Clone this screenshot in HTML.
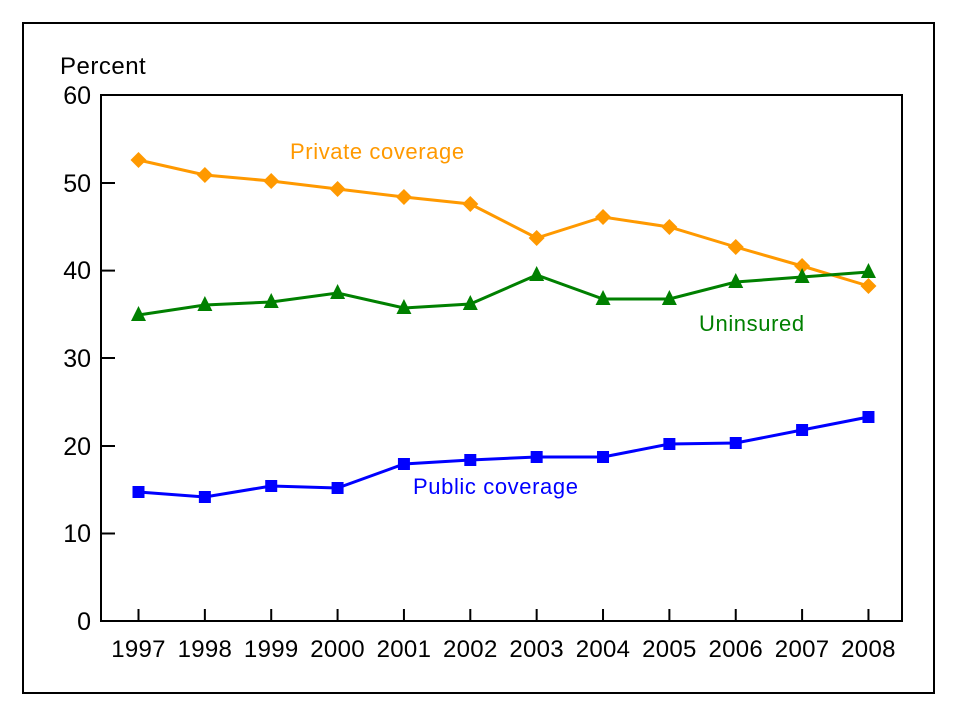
<!DOCTYPE html>
<html><head><style>body{margin:0;background:#fff}svg{display:block}text{font-family:"Liberation Sans",sans-serif}</style></head><body>
<svg width="960" height="720" viewBox="0 0 960 720">
<rect x="23" y="23" width="911" height="670" fill="none" stroke="#000" stroke-width="2"/>
<rect x="101" y="95" width="801" height="526" fill="none" stroke="#000" stroke-width="2"/>
<g stroke="#000" stroke-width="2">
<line x1="101" y1="183" x2="115" y2="183"/><line x1="101" y1="270.6" x2="115" y2="270.6"/><line x1="101" y1="358" x2="115" y2="358"/><line x1="101" y1="446" x2="115" y2="446"/><line x1="101" y1="533.5" x2="115" y2="533.5"/>
</g>
<g font-size="25" text-anchor="end" fill="#000">
<text x="91" y="104">60</text><text x="91" y="192">50</text><text x="91" y="279">40</text><text x="91" y="367">30</text><text x="91" y="455">20</text><text x="91" y="542">10</text><text x="91" y="630">0</text>
</g>
<text x="60" y="74" font-size="24" letter-spacing="0.5">Percent</text>
<g id="xt" stroke="#000" stroke-width="2"></g>
<g id="xl" font-size="24" text-anchor="middle" letter-spacing="0.3"></g>
<polyline id="p1" fill="none" stroke="#FF9900" stroke-width="3"/>
<polyline id="p2" fill="none" stroke="#008000" stroke-width="3"/>
<polyline id="p3" fill="none" stroke="#0000FF" stroke-width="3"/>
<g id="m"></g>
<text x="290" y="159" font-size="22" letter-spacing="0.6" fill="#FF9900">Private coverage</text>
<text x="699" y="331" font-size="22" letter-spacing="0.6" fill="#008000">Uninsured</text>
<text x="413" y="494" font-size="22" letter-spacing="0.6" fill="#0000FF">Public coverage</text>
</svg>
<script>
var ns="http://www.w3.org/2000/svg";
function el(t,a,p){var e=document.createElementNS(ns,t);for(var k in a)e.setAttribute(k,a[k]);document.getElementById(p).appendChild(e);return e;}
var pr=[160,175,181,189,197,204,238,217,227,247,266,286];
var un=[315,305,302,293,308,304,275,299,299,282,277,272];
var pu=[492,497,486,488,464,460,457,457,444,443,430,417];
var X=[];for(var i=0;i<12;i++){X.push(138.5+i*66.36);}
for(i=0;i<12;i++){el("line",{x1:X[i],y1:609,x2:X[i],y2:621},"xt");var t=el("text",{x:X[i],y:657},"xl");t.textContent=1997+i;}
function pts(a){return a.map(function(y,i){return X[i]+","+y}).join(" ");}
document.getElementById("p1").setAttribute("points",pts(pr));
document.getElementById("p2").setAttribute("points",pts(un));
document.getElementById("p3").setAttribute("points",pts(pu));
for(i=0;i<12;i++){var x=X[i];
el("polygon",{points:(x)+","+(pr[i]-8)+" "+(x+8)+","+pr[i]+" "+x+","+(pr[i]+8)+" "+(x-8)+","+pr[i],fill:"#FF9900"},"m");
el("polygon",{points:x+","+(un[i]-9)+" "+(x+7.5)+","+(un[i]+6)+" "+(x-7.5)+","+(un[i]+6),fill:"#008000"},"m");
el("rect",{x:x-6,y:pu[i]-6,width:12,height:12,fill:"#0000FF"},"m");}
</script>
</body></html>
